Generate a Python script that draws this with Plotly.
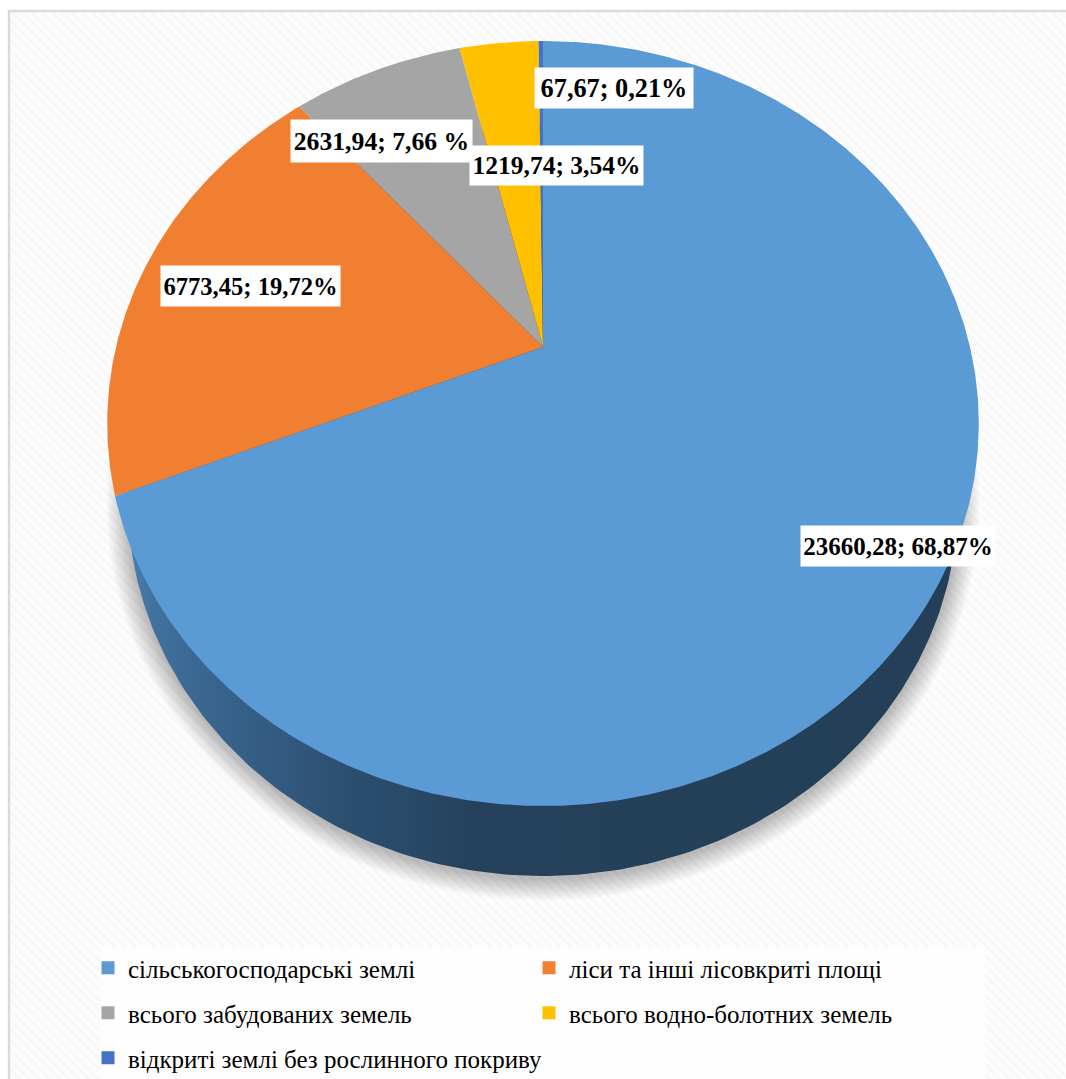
import numpy as np
import plotly.graph_objects as go

# ---------- data ----------
categories = [
    "сільськогосподарські землі",
    "ліси та інші лісовкриті площі",
    "всього забудованих земель",
    "всього водно-болотних земель",
    "відкриті землі без рослинного покриву",
]
areas = [23660.28, 6773.45, 2631.94, 1219.74, 67.67]
percent_labels = ["68,87%", "19,72%", "7,66 %", "3,54%", "0,21%"]

# ---------- styles and layout ----------
colors = ["#5B9BD5", "#F07F32", "#A5A5A5", "#FFC000", "#4472C4"]
W, H = 1066, 1079
FIG_H = H + 10                 # the last legend row needs room below the window; the page clips it
APEX_X, APEX_Y = 543, 347      # tilted pie: apex is not at the rim's centre
PERSP_A, PERSP_B, PERSP_K = 427.0, 367.2, 0.2
WALL = dict(cx=543, cy=501, rx=415, ry=375)
label_pos = [(898, 546, 194, 40, 25.0), (250, 286, 179, 40, 24.6), (381, 141, 181, 42, 25.7),
             (556, 165, 173, 39, 25.5), (614, 88, 158, 40, 26.3)]
FONT = "Liberation Serif"
legend_rows = ["legend", "legend", "legend2", "legend2", "legend3"]
legend_row_tops = [945, 990, 1035]


def rim(theta):
    """Perspective projection of a unit circle; theta clockwise from 12 o'clock."""
    u, v = np.sin(theta), np.cos(theta)
    d = 1 + PERSP_K * v
    return APEX_X + PERSP_A * u / d, APEX_Y - PERSP_B * v / d


def ellipse(cx, cy, rx, ry, n=360):
    t = np.linspace(0, 2 * np.pi, n)
    return cx + rx * np.cos(t), cy + ry * np.sin(t)


fig = go.Figure()

# hatched chart panel
fig.add_trace(go.Scatter(
    x=[9, W, W, 9, 9], y=[11, 11, FIG_H, FIG_H, 11], mode="lines", line=dict(width=0),
    fill="toself", fillcolor="#FBFBFB",
    fillpattern=dict(shape="\\", size=7, solidity=0.45, fgcolor="#F4F4F4", bgcolor="#FDFDFD"),
    hoverinfo="skip", showlegend=False))

# soft shadow under the pie
for d in range(1, 23):
    ex, ey = ellipse(WALL["cx"], WALL["cy"] + 3, WALL["rx"] + d, WALL["ry"] + d)
    fig.add_trace(go.Scatter(x=ex, y=ey, mode="lines", line=dict(width=0), fill="toself",
                             fillcolor="rgba(0,0,0,0.011)", hoverinfo="skip", showlegend=False))

# side wall of the pie
ex, ey = ellipse(WALL["cx"], WALL["cy"], WALL["rx"], WALL["ry"])
fig.add_trace(go.Scatter(
    x=ex, y=ey, mode="lines", line=dict(width=0), fill="toself",
    fillgradient=dict(type="horizontal",
                      colorscale=[[0, "#4A7FAF"], [0.03, "#41729F"], [0.09, "#3A6690"],
                                  [0.21, "#30567A"], [0.28, "#2B4D6D"], [0.33, "#294A69"],
                                  [0.42, "#25415B"], [1, "#243F57"]]),
    hoverinfo="skip", showlegend=False))

# slices, from the values
cum = np.concatenate([[0], np.cumsum(areas)]) / np.sum(areas) * 2 * np.pi
for i, name in enumerate(categories):
    t = np.linspace(cum[i], cum[i + 1], max(3, int((cum[i + 1] - cum[i]) * 120)))
    rx_, ry_ = rim(t)
    fig.add_trace(go.Scatter(
        x=np.r_[APEX_X, rx_, APEX_X], y=np.r_[APEX_Y, ry_, APEX_Y],
        mode="lines", line=dict(width=0), fill="toself", fillcolor=colors[i],
        name=name, hovertemplate=f"{name}<br>{areas[i]}<extra></extra>", showlegend=False))

# legend entries
for i, name in enumerate(categories):
    fig.add_trace(go.Scatter(
        x=[None], y=[None], mode="markers", name=name, legend=legend_rows[i],
        marker=dict(symbol="square", size=13, color=colors[i])))

# data labels
annotations = []
for area, pct, (x, y, w, h, fs) in zip(areas, percent_labels, label_pos):
    annotations.append(dict(
        x=x, y=y, xref="x", yref="y", showarrow=False,
        text=f"<b>{f'{area:.2f}'.replace('.', ',')}; {pct}</b>",
        font=dict(family=FONT, size=fs, color="#000000"),
        bgcolor="#FFFFFF", width=w, height=h, align="center", valign="middle", borderpad=0))

legend_common = dict(
    orientation="h", x=88 / W, xanchor="left", yanchor="top", yref="paper", xref="paper",
    bgcolor="rgba(0,0,0,0)", borderwidth=0, itemclick=False, itemdoubleclick=False,
    entrywidthmode="pixels",
    font=dict(family=FONT, size=25, color="#000000"))

fig.update_layout(
    width=W, height=FIG_H, autosize=False,
    margin=dict(l=0, r=0, t=0, b=0, pad=0),
    paper_bgcolor="#FFFFFF", plot_bgcolor="#FFFFFF",
    xaxis=dict(range=[0, W], visible=False, fixedrange=True),
    yaxis=dict(range=[FIG_H, 0], visible=False, fixedrange=True),
    shapes=[
        dict(type="rect", xref="x", yref="y", x0=9, y0=11, x1=W + 20, y1=FIG_H + 20,
             line=dict(color="#DADADA", width=2.5), fillcolor="rgba(0,0,0,0)", layer="above"),
        dict(type="rect", xref="x", yref="y", x0=100, y0=947, x1=985, y1=FIG_H + 5,
             line=dict(width=0), fillcolor="#FEFEFE", layer="above"),
    ],
    annotations=annotations,
    legend=dict(y=1 - legend_row_tops[0] / FIG_H, entrywidth=396, **legend_common),
    legend2=dict(y=1 - legend_row_tops[1] / FIG_H, entrywidth=396, **legend_common),
    legend3=dict(y=1 - legend_row_tops[2] / FIG_H, entrywidth=440, **legend_common),
    showlegend=True,
)

fig.write_html("out.html", config=dict(displayModeBar=False),
               post_script="document.body.style.margin='0';document.documentElement.style.overflow='hidden';document.body.style.overflow='hidden';")
